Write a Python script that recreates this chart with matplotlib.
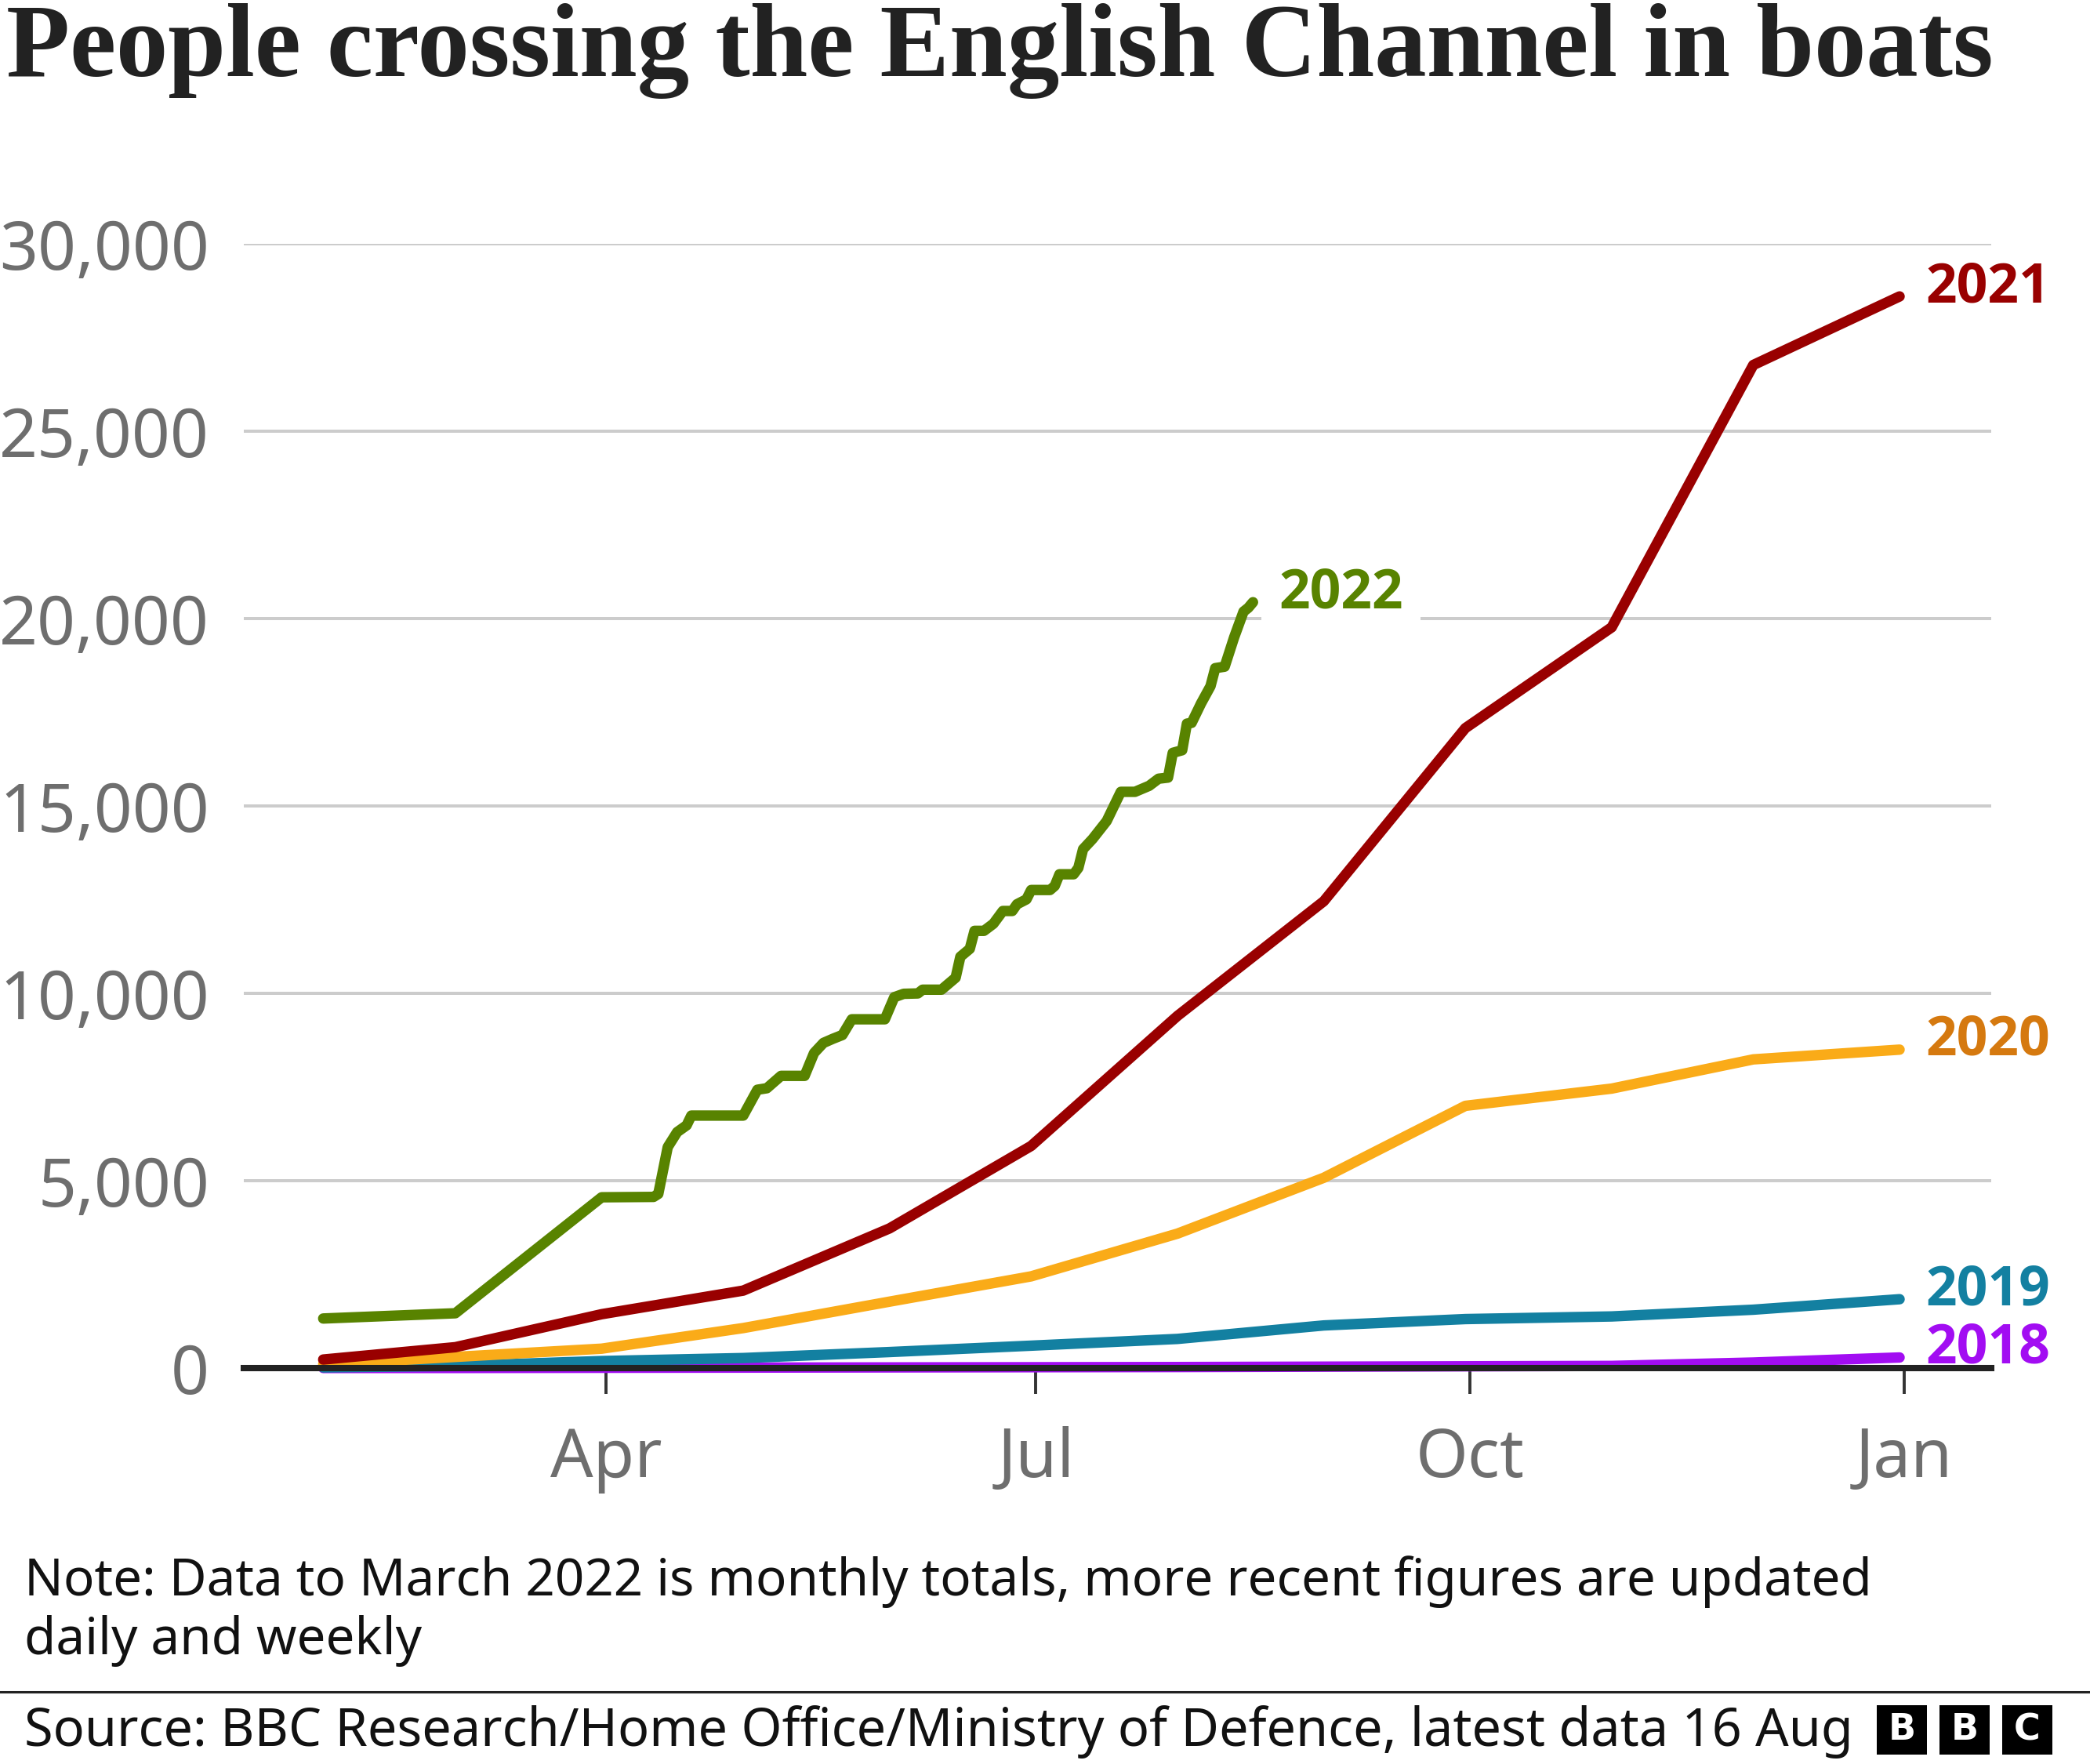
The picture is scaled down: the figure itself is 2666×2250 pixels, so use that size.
import matplotlib
matplotlib.use('Agg')
import matplotlib.pyplot as plt
from matplotlib.patches import Rectangle
from matplotlib.lines import Line2D

plt.rcParams['font.family'] = ['Noto Sans', 'DejaVu Sans']

# day of year at the end of each month (monthly cumulative totals)
month_end_days = [31, 59, 90, 120, 151, 181, 212, 243, 273, 304, 334, 365]
crossings_2018 = [5, 5, 10, 15, 20, 25, 30, 40, 50, 60, 150, 285]
crossings_2019 = [20, 60, 190, 270, 430, 600, 780, 1140, 1310, 1380, 1560, 1840]
crossings_2020 = [100, 300, 520, 1070, 1775, 2450, 3590, 5080, 7000, 7460, 8240, 8500]
crossings_2021 = [230, 560, 1440, 2070, 3730, 5930, 9400, 12460, 17080, 19770, 26770, 28600]

# 2022: monthly to March, then daily / weekly figures up to 16 Aug
days_2022 = [31, 59, 90, 101, 102, 104, 106, 108, 109, 120, 123, 125, 128, 133,
             135, 137, 139, 141, 143, 150, 152, 154, 157, 158, 162, 165, 166,
             168, 169, 171, 173, 175, 177, 178, 180, 181, 185, 186, 187, 190,
             191, 192, 194, 197, 200, 203, 206, 208, 210, 211, 213, 214, 215,
             217, 219, 220, 222, 224, 226, 227, 228]
crossings_2022 = [1325, 1465, 4560, 4570, 4650, 5900, 6300, 6480, 6740, 6740,
                  7430, 7470, 7800, 7800, 8410, 8680, 8790, 8890, 9310, 9310,
                  9900, 9990, 10000, 10100, 10100, 10420, 10980, 11190, 11670,
                  11670, 11860, 12200, 12200, 12380, 12510, 12760, 12760, 12870,
                  13180, 13180, 13350, 13850, 14120, 14600, 15380, 15380, 15540,
                  15730, 15760, 16420, 16490, 17200, 17220, 17740, 18200, 18680,
                  18720, 19500, 20190, 20290, 20440]

tick_days = [91, 182, 274, 366]
tick_labels = ['Apr', 'Jul', 'Oct', 'Jan']
y_ticks = [0, 5000, 10000, 15000, 20000, 25000, 30000]

series = [
    ('2018', month_end_days, crossings_2018, '#a20df2', '#a20df2'),
    ('2019', month_end_days, crossings_2019, '#1380a1', '#1380a1'),
    ('2020', month_end_days, crossings_2020, '#faab18', '#d5790f'),
    ('2021', month_end_days, crossings_2021, '#990000', '#990000'),
    ('2022', days_2022, crossings_2022, '#588300', '#588300'),
]

fig = plt.figure(figsize=(13.33, 11.25), dpi=200)
ax = fig.add_axes([0.1167, 0.2244, 0.836, 0.6373])

for i, (name, x, y, col, lab_col) in enumerate(series):
    ax.plot(x, y, color=col, lw=4.8, solid_capstyle='round',
            solid_joinstyle='round', zorder=3 + i, clip_on=False)
    bbox = None
    if name == '2022':
        bbox = dict(facecolor='white', edgecolor='none', pad=8)
    ax.annotate(name, xy=(x[-1], y[-1]), xytext=(12, -2.5),
                textcoords='offset points', ha='left', va='baseline',
                fontsize=25, fontweight='bold', color=lab_col,
                family=['Open Sans', 'DejaVu Sans'],
                bbox=bbox, zorder=10, annotation_clip=False)

ax.axhline(0, color='#222222', lw=2.9, zorder=9, clip_on=False)

ax.set_xlim(14.2, 384.4)
ax.set_ylim(0, 30000)
ax.set_xticks(tick_days)
ax.set_xticklabels(tick_labels)
ax.set_yticks(y_ticks)
ax.set_yticklabels([f'{v:,}' for v in y_ticks])
ax.tick_params(axis='y', length=0, pad=15.8, labelsize=30.8, labelcolor='#6e6e6e')
ax.tick_params(axis='x', length=12, width=1.4, color='#333333', pad=14.5,
               labelsize=30.8, labelcolor='#6e6e6e')
for s in ax.spines.values():
    s.set_visible(False)
ax.grid(axis='y', color='#cccccc', lw=1.44)
ax.set_axisbelow(True)

fig.text(0.003, 0.9569, 'People crossing the English Channel in boats',
         family='Liberation Serif', fontweight='bold', fontsize=47.8,
         color='#222222', va='baseline', ha='left')

fig.text(0.0117, 1 - 2035 / 2250,
         'Note: Data to March 2022 is monthly totals, more recent figures are updated',
         fontsize=23.6, color='#111111', va='baseline', ha='left')
fig.text(0.0117, 1 - 2110 / 2250, 'daily and weekly',
         fontsize=23.6, color='#111111', va='baseline', ha='left')

fig.add_artist(Line2D([0, 1], [1 - 2158 / 2250] * 2, color='#222222', lw=1.1,
                      transform=fig.transFigure))

fig.text(0.0117, 1 - 2227 / 2250,
         'Source: BBC Research/Home Office/Ministry of Defence, latest data 16 Aug',
         fontsize=24.0, color='#111111', va='baseline', ha='left')

# BBC blocks
for j, letter in enumerate('BBC'):
    x0 = (2394 + j * 80) / 2666
    y0 = 1 - 2238 / 2250
    w = 64 / 2666
    h = 63 / 2250
    fig.add_artist(Rectangle((x0, y0), w, h, facecolor='black', edgecolor='none',
                             transform=fig.transFigure))
    fig.text(x0 + w / 2, y0 + h / 2, letter, color='white', fontweight='bold',
             fontsize=16.6, ha='center', va='center', family='DejaVu Sans')

fig.savefig('out.png', dpi=200)
